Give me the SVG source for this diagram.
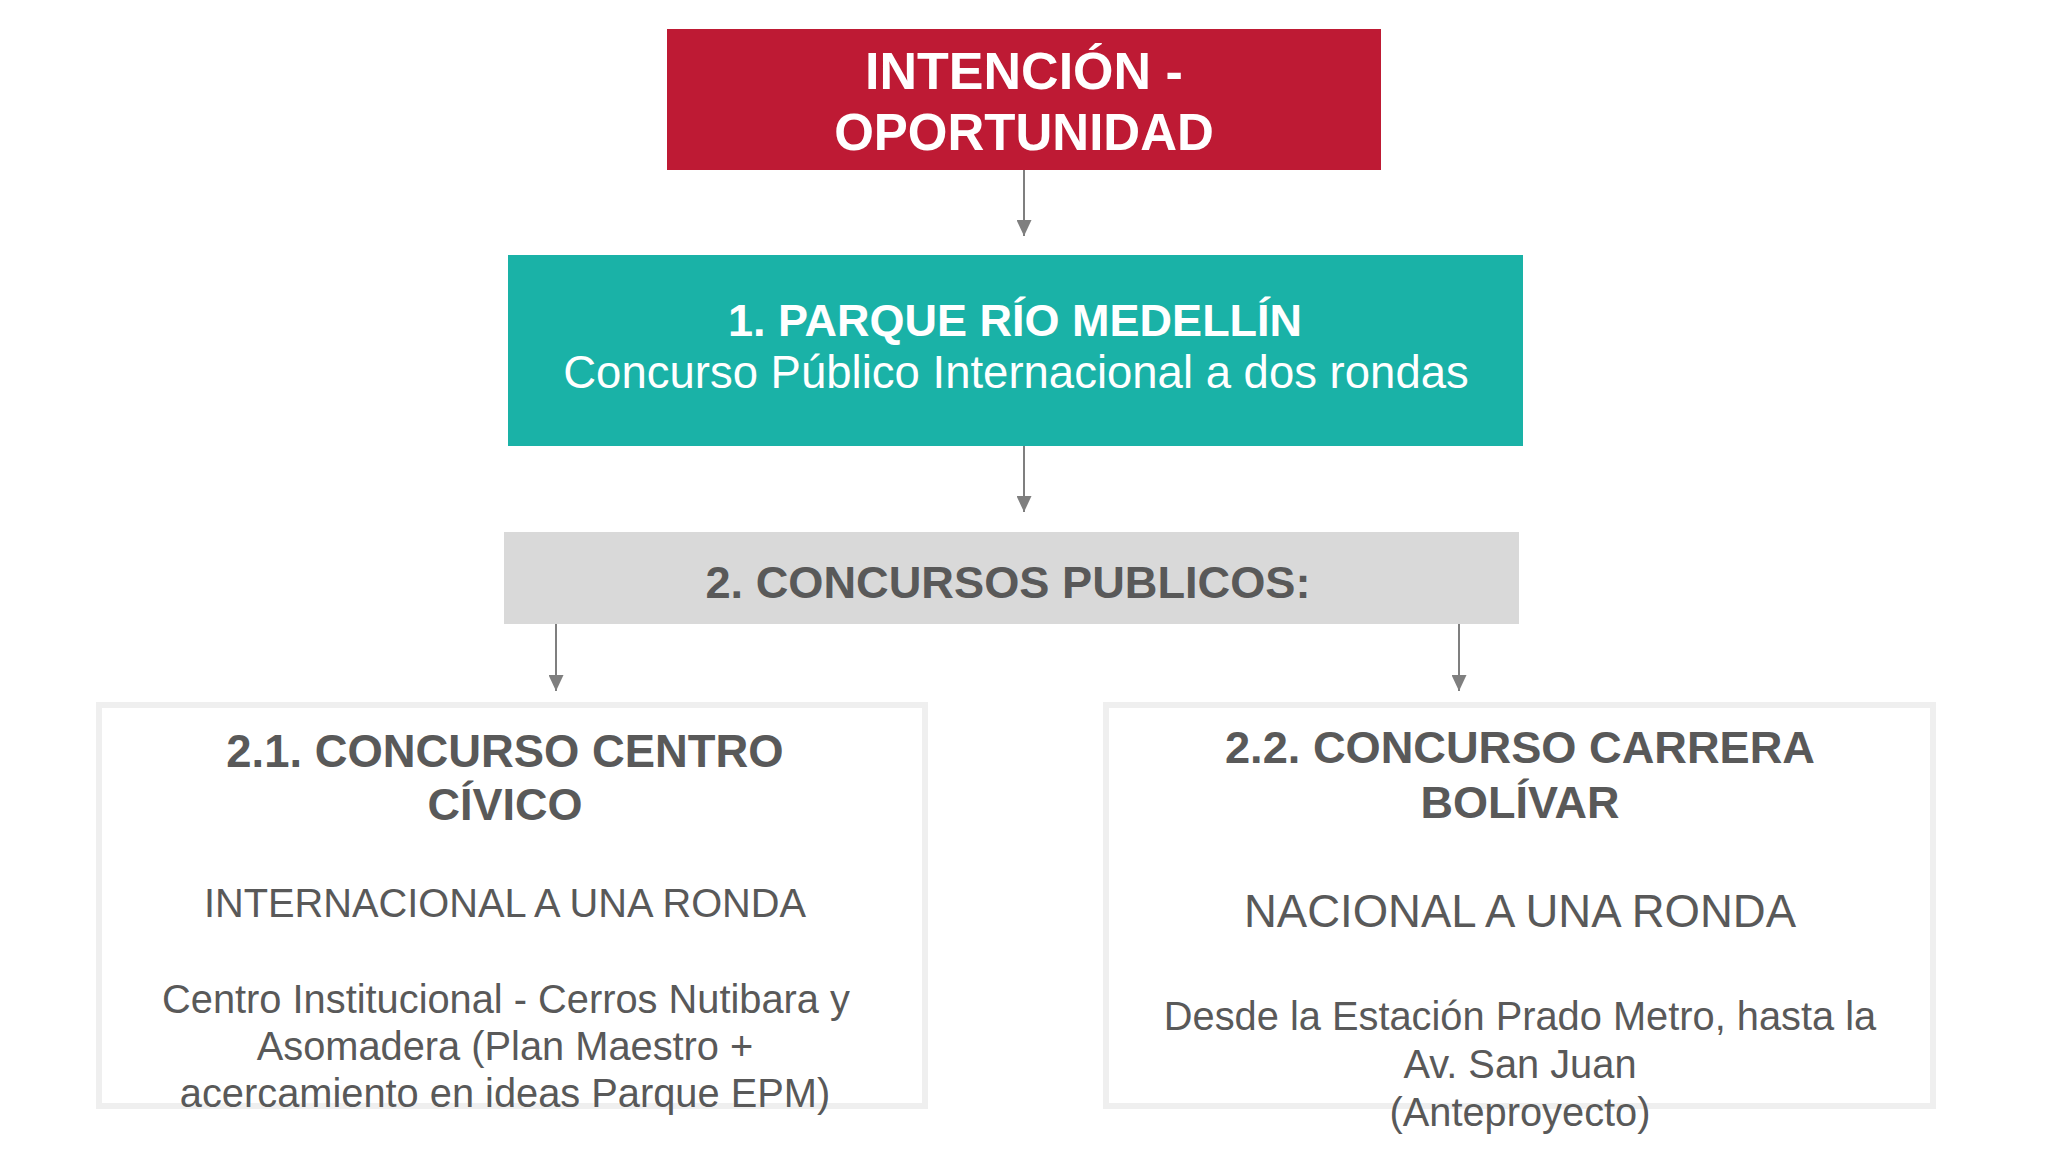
<svg xmlns="http://www.w3.org/2000/svg" width="2048" height="1152" viewBox="0 0 2048 1152">
  <defs>
    <marker id="arrow" viewBox="0 0 16 15" refX="16" refY="7.5" markerWidth="16" markerHeight="15" markerUnits="userSpaceOnUse" orient="auto">
      <path d="M0,0 L16,7.5 L0,15 Z" fill="#7f7f7f"/>
    </marker>
    <style>
      text { font-family: "Liberation Sans", Arial, sans-serif; text-anchor: middle; }
      .b { font-weight: bold; }
      .w { fill: #ffffff; }
      .g { fill: #595959; }
      .conn { stroke: #7f7f7f; stroke-width: 2; fill: none; marker-end: url(#arrow); }
      .card { fill: #ffffff; stroke: #efefef; stroke-width: 6; }
    </style>
  </defs>
  <rect width="2048" height="1152" fill="#ffffff"/>

  <g id="connectors">
    <line class="conn" x1="1024" y1="170" x2="1024" y2="236"/>
    <line class="conn" x1="1024" y1="446" x2="1024" y2="512"/>
    <line class="conn" x1="556" y1="624" x2="556" y2="691"/>
    <line class="conn" x1="1459" y1="624" x2="1459" y2="691"/>
  </g>

  <g id="node-intencion">
    <rect x="667" y="29" width="714" height="141" fill="#be1a34"/>
    <text class="b w" x="1024" y="89" font-size="52">INTENCIÓN -</text>
    <text class="b w" x="1024" y="150" font-size="51">OPORTUNIDAD</text>
  </g>

  <g id="node-parque">
    <rect x="508" y="255" width="1015" height="191" fill="#1ab2a7"/>
    <text class="b w" x="1015" y="336" font-size="45">1. PARQUE RÍO MEDELLÍN</text>
    <text class="w" x="1016" y="388" font-size="45.5">Concurso Público Internacional a dos rondas</text>
  </g>

  <g id="node-concursos">
    <rect x="504" y="532" width="1015" height="92" fill="#d9d9d9"/>
    <text class="b g" x="1008" y="598" font-size="45.2">2. CONCURSOS PUBLICOS:</text>
  </g>

  <g id="node-centro-civico">
    <rect class="card" x="99" y="705" width="826" height="401"/>
    <text class="b g" x="505" y="767" font-size="45.4">2.1. CONCURSO CENTRO</text>
    <text class="b g" x="505" y="820" font-size="45">CÍVICO</text>
    <text class="g" x="505" y="917" font-size="39.8">INTERNACIONAL A UNA RONDA</text>
    <text class="g" x="506" y="1013" font-size="39.8">Centro Institucional - Cerros Nutibara y</text>
    <text class="g" x="505" y="1060" font-size="39.8">Asomadera (Plan Maestro +</text>
    <text class="g" x="505" y="1107" font-size="39.8">acercamiento en ideas Parque EPM)</text>
  </g>

  <g id="node-carrera-bolivar">
    <rect class="card" x="1106" y="705" width="827" height="401"/>
    <text class="b g" x="1520" y="763" font-size="45.2">2.2. CONCURSO CARRERA</text>
    <text class="b g" x="1520" y="818" font-size="45">BOLÍVAR</text>
    <text class="g" x="1520" y="927" font-size="45.5">NACIONAL A UNA RONDA</text>
    <text class="g" x="1520" y="1030" font-size="39.8">Desde la Estación Prado Metro, hasta la</text>
    <text class="g" x="1520" y="1078" font-size="39.8">Av. San Juan</text>
    <text class="g" x="1520" y="1126" font-size="39.8">(Anteproyecto)</text>
  </g>
</svg>
